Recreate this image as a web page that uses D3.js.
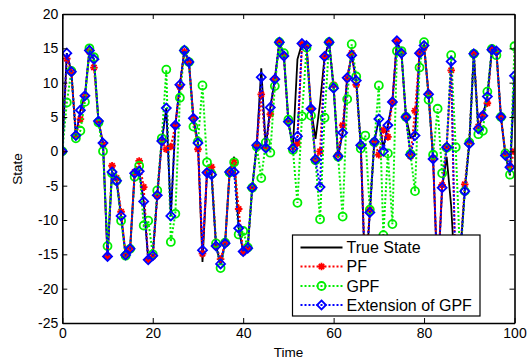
<!DOCTYPE html>
<html>
<head>
<meta charset="utf-8">
<script src="https://cdn.jsdelivr.net/npm/d3@7"></script>
<style>
  body { margin: 0; background: #fff; }
  svg { display: block; font-family: Arial, "Liberation Sans", Helvetica, sans-serif; }
</style>
</head>
<body>
<figure id="chart" style="margin:0"></figure>
<script>
// time steps 0..100
const times = d3.range(0, 101);

const trueState = [
  0, 14.3, 11.6, 2.3, 6.0, 8.1, 14.7, 13.4, 4.4, 1.2,
  -15.3, -3.0, -4.3, -9.4, -15.1, -14.2, -3.2, -2.9, -7.3, -15.8,
  -15.2, -6.4, 1.5, 6.3, -9.4, 3.8, 9.7, 14.7, 13.0, 4.8,
  1.2, -16.1, -3.1, -3.4, -13.8, -16.4, -13.4, -3.0, -0.8, -11.2,
  -14.6, -14.1, -5.3, 0.9, 12.1, 0.5, 6.4, 10.5, 15.9, 13.9,
  4.3, 0.6, 13.4, 15.7, 15.4, 6.2, 1.8, 7.0, 13.8, 15.9,
  9.2, -0.7, 2.7, 10.7, 14.0, 10.3, 0.9, -19, -9.0, 1.4,
  4.7, 0.5, 3.8, 7.3, 16.1, 14.3, 5.0, 2.0, 2.3, 14.3,
  15.4, 8.3, -1.1, -19, -5.3, -0.8, -8, -20, -15, -5.8,
  1.1, 14.2, 3.3, 5.2, 8.0, 14.8, 14.6, 5.0, -0.6, -3.5,
  11.0
];

const pfValues = [
  0, 13.5, 11.5, 2.3, 4.7, 8.0, 14.5, 12.2, 4.4, 1.0,
  -15.3, -2.1, -3.9, -8.8, -15.1, -14.2, -3.0, -1.4, -5.2, -15.8,
  -15.3, -6.5, 1.5, 0.3, 0.7, 3.8, 9.4, 14.5, 13.0, 4.8,
  0.3, -14.9, -3.1, -2.3, -13.8, -15.7, -13.4, -3.0, -1.6, -8.4,
  -14.7, -14.1, -5.3, 0.9, 8.3, 0.5, 5.4, 10.5, 15.9, 13.9,
  4.3, 0.6, 1.2, 15.6, 15.4, 6.2, -1.2, 0.0, 13.8, 15.9,
  9.7, -0.5, 3.8, 10.6, 14.3, 9.7, 0.9, -18, -8.5, 1.5,
  -0.5, 3.1, 2.1, 7.2, 16.0, 14.3, 5.0, -0.7, 5.9, 14.3,
  15.1, 8.4, -1.0, -19, -4.9, 0.7, 11.8, -20, -15, -4.8,
  1.4, 14.2, 3.6, 5.3, 7.0, 14.9, 14.5, 5.0, -0.4, -2.2,
  0.0
];

const gpfValues = [
  0, 7.1, 11.7, 1.9, 3.0, 7.2, 15.0, 13.7, 4.2, 0.0,
  -13.8, -3.2, -4.3, -10.1, -15.2, -14.2, -3.7, -2.1, -10.8, -10.1,
  -15.0, -5.7, 1.9, 11.9, -13.2, -9.1, 7.8, 14.7, 13.0, 3.6,
  1.4, 9.6, -1.6, -3.3, -13.4, -17.0, -13.3, -3.1, -1.6, -12.1,
  -11.6, -14.0, -5.3, 0.7, -3.9, 1.3, -0.2, 9.5, 15.9, 14.3,
  4.6, 0.2, -7.5, 5.1, 15.1, 5.2, -1.3, -9.9, 4.9, 15.9,
  9.4, -0.8, -9.5, 7.6, 15.6, 10.9, 0.4, 2.3, -8.5, 1.3,
  9.6, -12.2, -0.3, -10.6, 14.6, 14.6, 5.0, -0.4, -5.8, 12.2,
  15.9, 7.5, -0.5, 6.2, -3.2, 0.5, 14.0, 0.6, -16, -5.8,
  1.3, 14.2, 2.5, 3.0, 8.7, 14.9, 14.0, 5.0, -0.3, -3.4,
  15.3
];

const egpfValues = [
  0, 14.3, 11.6, 2.3, 6.0, 8.1, 14.7, 13.4, 4.4, 1.2,
  -15.3, -3.0, -4.3, -9.4, -15.1, -14.2, -3.2, -2.9, -7.3, -15.8,
  -15.2, -6.4, 1.5, 6.3, -9.4, 3.8, 9.7, 14.7, 13.0, 4.8,
  1.2, -14.4, -3.1, -3.4, -13.8, -16.4, -13.4, -3.0, -3.0, -11.2,
  -14.6, -14.1, -5.3, 0.9, 10.8, 0.5, 6.4, 10.5, 15.9, 13.9,
  4.3, 0.4, 2.2, 15.7, 15.4, 6.2, -1.2, -5.2, 13.8, 15.9,
  9.2, -0.7, 2.7, 10.7, 14.0, 10.3, 0.9, -19, -8.9, 1.4,
  4.7, 0.0, 3.8, 7.2, 16.1, 14.3, 5.0, -0.5, 2.3, 14.3,
  15.4, 8.3, -1.1, -19, -5.3, 0.6, 13.1, -20, -15, -5.8,
  1.1, 14.2, 3.3, 5.2, 8.0, 14.8, 14.6, 5.0, -0.6, -2.3,
  11.0
];

const xTicks = [0, 20, 40, 60, 80, 100];
const yTicks = [-25, -20, -15, -10, -5, 0, 5, 10, 15, 20];
const legendLabels = ['True State', 'PF', 'GPF', 'Extension of GPF'];

const W = 528, H = 362;
const plotLeft = 62.3, plotRight = 514.5, plotTop = 14, plotBottom = 323;

const svg = d3.select('figure#chart')
  .append('svg')
  .attr('width', W)
  .attr('height', H);

const x = d3.scaleLinear().domain([0, 100]).range([plotLeft, plotRight]);
const y = d3.scaleLinear().domain([-25, 20]).range([plotBottom, plotTop]);

svg.append('defs').append('clipPath').attr('id', 'plotclip')
  .append('rect')
  .attr('x', plotLeft).attr('y', plotTop)
  .attr('width', plotRight - plotLeft).attr('height', plotBottom - plotTop);

// series
const plot = svg.append('g').attr('clip-path', 'url(#plotclip)');

const line = (vals) => d3.line()
  .x((d, i) => x(times[i]))
  .y(d => y(d))(vals);

const starPath = (r) => 'M' + (-r) + ',0H' + r + 'M0,' + (-r) + 'V' + r +
  'M' + (-r * 0.7) + ',' + (-r * 0.7) + 'L' + (r * 0.7) + ',' + (r * 0.7) +
  'M' + (-r * 0.7) + ',' + (r * 0.7) + 'L' + (r * 0.7) + ',' + (-r * 0.7);
const diamondPath = (r) => 'M0,' + (-r) + 'L' + r + ',0L0,' + r + 'L' + (-r) + ',0Z';

const series = [
  { name: legendLabels[0], vals: trueState, color: '#000000', dash: null, marker: null },
  { name: legendLabels[1], vals: pfValues, color: '#ff0000', dash: '2,2', marker: 'star' },
  { name: legendLabels[2], vals: gpfValues, color: '#00ee00', dash: '2,2', marker: 'circle' },
  { name: legendLabels[3], vals: egpfValues, color: '#0000ff', dash: '2,2', marker: 'diamond' }
];

function drawMarker(g, type, color) {
  if (type === 'star') {
    g.append('path').attr('d', starPath(3.8)).attr('stroke', color).attr('stroke-width', 1.8).attr('fill', 'none');
  } else if (type === 'circle') {
    g.append('circle').attr('r', 4).attr('stroke', color).attr('stroke-width', 1.8).attr('fill', 'none');
  } else if (type === 'diamond') {
    g.append('path').attr('d', diamondPath(4.5)).attr('stroke', color).attr('stroke-width', 1.8).attr('fill', 'none');
  }
}

series.forEach(s => {
  plot.append('path')
    .attr('d', line(s.vals))
    .attr('fill', 'none')
    .attr('stroke', s.color)
    .attr('stroke-width', s.dash ? 2 : 1.8)
    .attr('stroke-dasharray', s.dash);
  if (s.marker) {
    plot.selectAll(null)
      .data(s.vals)
      .enter()
      .append('g')
      .attr('transform', (d, i) => 'translate(' + x(times[i]) + ',' + y(d) + ')')
      .each(function() { drawMarker(d3.select(this), s.marker, s.color); });
  }
});

// axes, ticks pointing inward like matlab
const fontSize = '14px';
const gx = svg.append('g')
  .attr('transform', 'translate(0,' + plotBottom + ')')
  .call(d3.axisBottom(x).tickValues(xTicks).tickSize(-5).tickSizeOuter(0).tickPadding(5));
const gy = svg.append('g')
  .attr('transform', 'translate(' + plotLeft + ',0)')
  .call(d3.axisLeft(y).tickValues(yTicks).tickSize(-5).tickSizeOuter(0).tickPadding(4));
svg.append('g')
  .attr('transform', 'translate(0,' + plotTop + ')')
  .call(d3.axisTop(x).tickValues(xTicks).tickSize(-5).tickSizeOuter(0).tickFormat(''));
svg.append('g')
  .attr('transform', 'translate(' + plotRight + ',0)')
  .call(d3.axisRight(y).tickValues(yTicks).tickSize(-5).tickSizeOuter(0).tickFormat(''));

svg.selectAll('.domain').attr('stroke', '#000').attr('stroke-width', 1.6);
svg.selectAll('.tick line').attr('stroke', '#000').attr('stroke-width', 1);
gx.selectAll('text').attr('font-size', fontSize).attr('fill', '#000');
gy.selectAll('text').attr('font-size', fontSize).attr('fill', '#000');
svg.selectAll('g').attr('font-family', null);
svg.selectAll('.tick text').each(function() {
  // matlab shows plain minus
  d3.select(this).text(d3.select(this).text().replace('\u2212', '-'));
});

svg.append('text')
  .attr('x', (plotLeft + plotRight) / 2)
  .attr('y', 357)
  .attr('text-anchor', 'middle')
  .attr('font-size', '13.5px')
  .text('Time');

svg.append('text')
  .attr('transform', 'translate(22,169)rotate(-90)')
  .attr('text-anchor', 'middle')
  .attr('font-size', '13.5px')
  .text('State');

// legend
const lg = svg.append('g');
lg.append('rect')
  .attr('x', 292.5).attr('y', 235)
  .attr('width', 187.5).attr('height', 81)
  .attr('fill', '#fff').attr('stroke', '#000').attr('stroke-width', 1.2);
const rowY = [247.5, 266.5, 286, 305];
series.forEach((s, i) => {
  const ry = rowY[i];
  lg.append('line')
    .attr('x1', 300.5).attr('x2', 342.5)
    .attr('y1', ry).attr('y2', ry)
    .attr('stroke', s.color).attr('stroke-width', s.dash ? 2 : 1.8)
    .attr('stroke-dasharray', s.dash);
  if (s.marker) {
    const m = lg.append('g').attr('transform', 'translate(321.5,' + ry + ')');
    drawMarker(m, s.marker, s.color);
  }
  lg.append('text')
    .attr('x', 346.5).attr('y', ry + 5.5)
    .attr('font-size', '16px')
    .text(s.name);
});
</script>
</body>
</html>
